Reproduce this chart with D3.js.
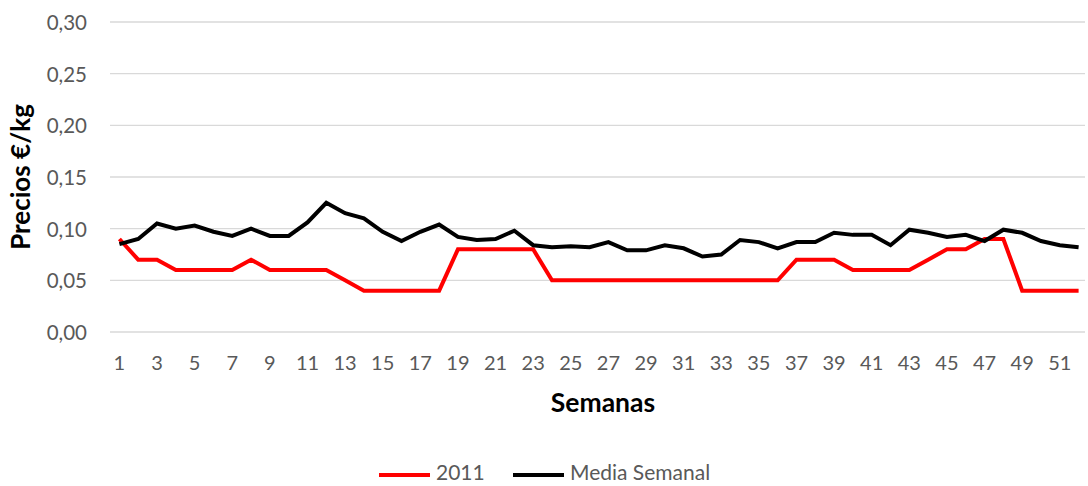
<!DOCTYPE html>
<html><head><meta charset="utf-8">
<script src="https://cdn.jsdelivr.net/npm/d3@7"></script>
<style>body{margin:0;background:#fff}svg{display:block}text{font-family:Lato,"Open Sans",sans-serif}</style>
</head><body><svg id="c" width="1088" height="486"></svg>
<script>
const weeks = d3.range(1, 53);
const serie2011 = [0.09,0.07,0.07,0.06,0.06,0.06,0.06,0.07,0.06,0.06,0.06,0.06,0.05,0.04,0.04,0.04,0.04,0.04,0.08,0.08,0.08,0.08,0.08,0.05,0.05,0.05,0.05,0.05,0.05,0.05,0.05,0.05,0.05,0.05,0.05,0.05,0.07,0.07,0.07,0.06,0.06,0.06,0.06,0.07,0.08,0.08,0.09,0.09,0.04,0.04,0.04,0.04];
const mediaSemanal = [0.085,0.090,0.105,0.100,0.103,0.097,0.093,0.100,0.093,0.093,0.106,0.125,0.115,0.110,0.097,0.088,0.097,0.104,0.092,0.089,0.090,0.098,0.084,0.082,0.083,0.082,0.087,0.079,0.079,0.084,0.081,0.073,0.075,0.089,0.087,0.081,0.087,0.087,0.096,0.094,0.094,0.084,0.099,0.096,0.092,0.094,0.088,0.099,0.096,0.088,0.084,0.082];
const yTicks = [0, 0.05, 0.10, 0.15, 0.20, 0.25, 0.30];
const seriesNames = ["2011", "Media Semanal"];
const seriesColors = ["#ff0000", "#000000"];

const svg = d3.select("#c");
const L = 110, R = 1088, T = 22, B = 332;
const x = d3.scaleBand().domain(weeks).range([L, R]);
const y = d3.scaleLinear().domain([0, 0.30]).range([B, T]);
const fmt = d => d3.format(".2f")(d).replace(".", ",");

// gridlines
svg.append("g").selectAll("line").data(yTicks).join("line")
  .attr("x1", L).attr("x2", R - 3).attr("y1", d => y(d)).attr("y2", d => y(d))
  .attr("stroke", "#d9d9d9").attr("stroke-width", 1.3);

// y axis labels
const ya = svg.append("g").attr("transform", `translate(${L - 23},0)`)
  .call(d3.axisLeft(y).tickValues(yTicks).tickFormat(fmt).tickSize(0).tickPadding(0));
ya.select(".domain").remove();
ya.selectAll("text").attr("font-size", 20.5).attr("fill", "#595959").attr("font-family", "Lato").attr("dy", "0.36em");

// x axis labels
const xa = svg.append("g").attr("transform", `translate(0,${B + 24})`)
  .call(d3.axisBottom(x).tickValues(weeks.filter(w => w % 2 === 1)).tickSize(0).tickPadding(0));
xa.select(".domain").remove();
xa.selectAll("text").attr("font-size", 20).attr("fill", "#595959").attr("font-family", "Lato");

// lines
const line = d3.line().x((d, i) => x(weeks[i]) + x.bandwidth() / 2).y(d => y(d));
[serie2011, mediaSemanal].forEach((s, i) => {
  svg.append("path").datum(s).attr("d", line).attr("fill", "none")
    .attr("stroke", seriesColors[i]).attr("stroke-width", 4).attr("stroke-linejoin", "miter");
});

// axis titles
svg.append("text").attr("x", 603).attr("y", 412).attr("text-anchor", "middle")
  .attr("font-size", 26.5).attr("font-weight", "bold").attr("fill", "#000").text("Semanas");
svg.append("text").attr("transform", "translate(30,177) rotate(-90)").attr("text-anchor", "middle")
  .attr("font-size", 26).attr("font-weight", "bold").attr("fill", "#000").text("Precios €/kg");

// legend
const lg = svg.append("g");
const legX = [379, 513];
seriesNames.forEach((n, i) => {
  lg.append("line").attr("x1", legX[i]).attr("x2", legX[i] + 51).attr("y1", 475).attr("y2", 475)
    .attr("stroke", seriesColors[i]).attr("stroke-width", 4);
  lg.append("text").attr("x", legX[i] + 57).attr("y", 480).attr("font-size", 21).attr("fill", "#595959").text(n);
});
</script></body></html>
